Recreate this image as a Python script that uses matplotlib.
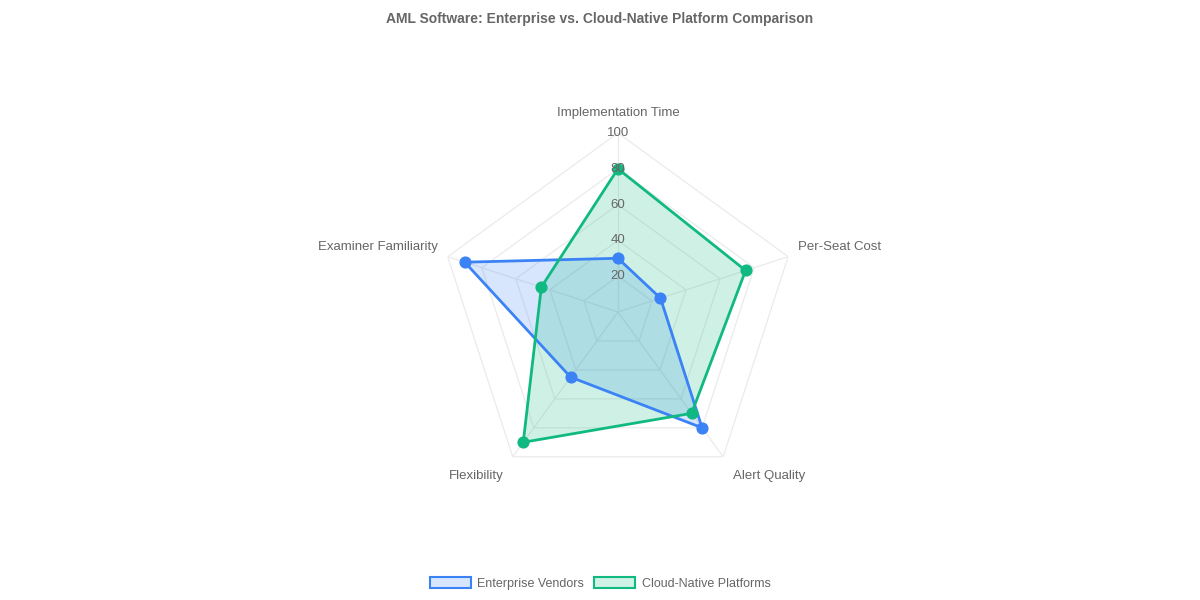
import numpy as np
import matplotlib.pyplot as plt
from matplotlib.patches import Patch

plt.rcParams['font.family'] = ['Liberation Sans', 'DejaVu Sans']

# Data
categories = ["Implementation Time", "Per-Seat Cost", "Alert Quality",
              "Flexibility", "Examiner Familiarity"]
enterprise = [30, 25, 80, 45, 90]
cloud_native = [80, 75, 70, 90, 45]
ticks = [20, 40, 60, 80, 100]

blue = "#3b82f6"
green = "#10b981"
text_col = "#666666"
grid_col = "#ebebeb"

fig = plt.figure(figsize=(12, 6), dpi=100)
ax = fig.add_axes([0.3658, 0.1817, 0.2983, 0.5967], projection="polar")
ax.set_theta_zero_location("N")
ax.set_theta_direction(-1)
ax.set_ylim(0, 100)
ax.grid(False)
ax.spines["polar"].set_visible(False)
ax.set_xticks([])
ax.set_yticks([])
ax.patch.set_alpha(0)

n = len(categories)
angles = np.linspace(0, 2 * np.pi, n, endpoint=False)
closed = np.append(angles, angles[0])

# polygon grid
for t in ticks:
    ax.plot(closed, [t] * (n + 1), color=grid_col, lw=0.9, zorder=1)
for a in angles:
    ax.plot([a, a], [0, 100], color=grid_col, lw=0.9, zorder=1)

# series
for vals, col, lab in [(enterprise, blue, "Enterprise Vendors"),
                       (cloud_native, green, "Cloud-Native Platforms")]:
    v = np.append(vals, vals[0])
    ax.fill(closed, v, color=col, alpha=0.2, zorder=2, lw=0)
    ax.plot(closed, v, color=col, lw=2, zorder=3)
    ax.scatter(angles, vals, s=60, color=col, zorder=4)

# tick labels
for t in ticks:
    ax.text(0, t, str(t), ha="center", va="center", fontsize=9.5,
            color=text_col, zorder=5)

# axis labels
label_pos = [(108, "center", "bottom"), (106, "left", "bottom"),
             (109, "left", "top"), (109, "right", "top"),
             (106, "right", "bottom")]
for a, name, (r, ha, va) in zip(angles, categories, label_pos):
    ax.text(a, r, name, ha=ha, va=va, fontsize=9.5, color=text_col)

fig.text(0.5, 0.968, "AML Software: Enterprise vs. Cloud-Native Platform Comparison",
         ha="center", va="center", fontsize=10, fontweight="bold", color=text_col)

handles = [Patch(facecolor=(0.23, 0.51, 0.96, 0.2), edgecolor=blue, lw=1.5, label="Enterprise Vendors"),
           Patch(facecolor=(0.06, 0.73, 0.51, 0.2), edgecolor=green, lw=1.5, label="Cloud-Native Platforms")]
fig.legend(handles=handles, loc="center", bbox_to_anchor=(0.5, 0.028), ncol=2,
           frameon=False, fontsize=9, labelcolor=text_col, handlelength=3.3,
           handleheight=1.0, columnspacing=0.8, handletextpad=0.5)

fig.savefig("out.png", dpi=100)
